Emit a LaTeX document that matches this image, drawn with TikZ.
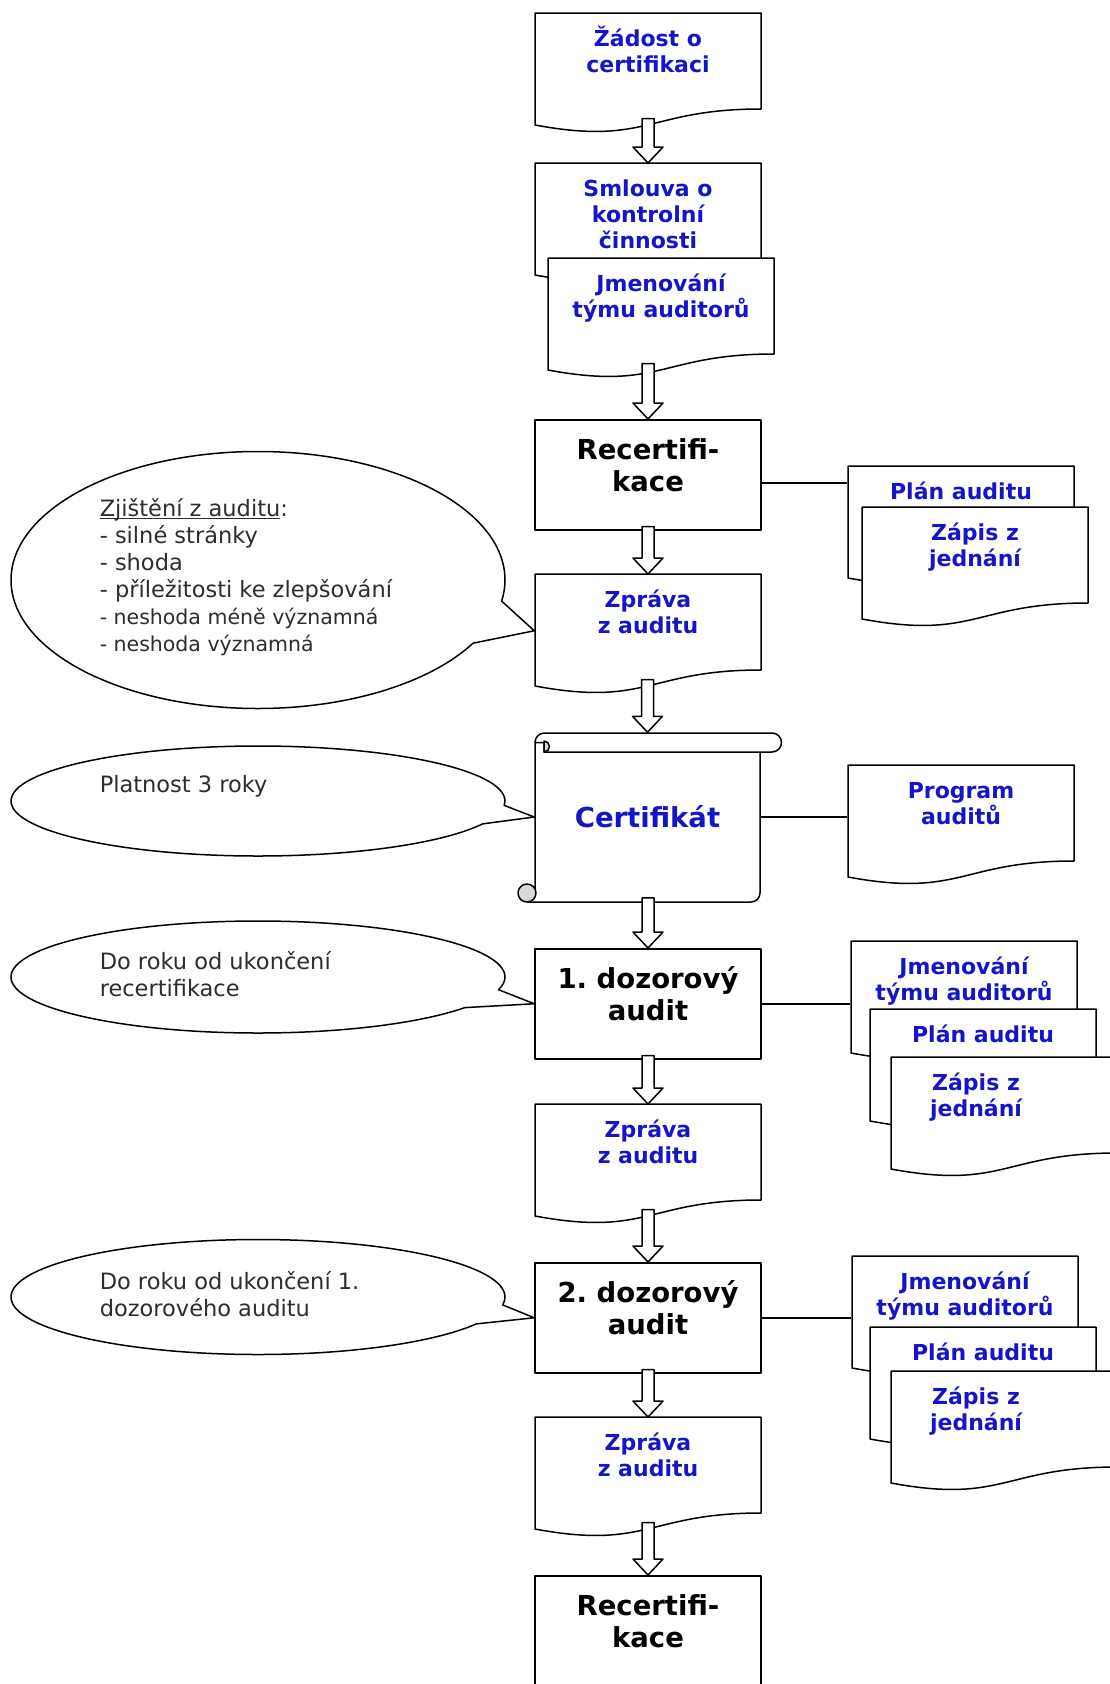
\documentclass[tikz,border=0pt]{standalone}
\usepackage{fontspec}
\setmainfont{DejaVu Sans}
\usetikzlibrary{calc,shapes.callouts}
\definecolor{docblue}{RGB}{20,20,200}
\definecolor{notegray}{RGB}{45,45,45}
\frenchspacing
\newcommand{\docf}{\fontsize{22}{26}\selectfont\bfseries}
\newcommand{\bigf}{\fontsize{27.5}{31.5}\selectfont\bfseries}
\newcommand{\notef}{\fontsize{22.5}{27}\selectfont}
\newcommand{\uln}[1]{\setbox0\hbox{#1}\rlap{\rule[-2.5pt]{\wd0}{1.2pt}}\box0}
\newcommand{\toptext}[3]{\parbox[t][#1][t]{226pt}{\centering\rule{0pt}{#2}#3}}
\newcommand{\docu}[5][0]{%
 \draw[fill=white,shift={(#3,#4)}] (0,0) -- (226,0) -- (226,96)
   .. controls (113,96) and (113,133) .. (0,112) -- cycle;
 \node[doc] (#2) at ({#3+113+(#1)},#4) {\toptext{112pt}{33pt}{#5}};}
\begin{document}
\begin{tikzpicture}[x=1pt, y=-1pt, line width=1.5pt, line join=round,
  doc/.style={inner sep=0pt, anchor=north, font=\docf, text=docblue},
  box/.style={draw, fill=white, inner sep=0pt, anchor=north, font=\bigf},
  note/.style={ellipse callout, draw, fill=white, minimum width=494pt, callout pointer arc=20},
  notetext/.style={anchor=north west, inner sep=0pt, align=left, font=\notef, text=notegray}]
\useasboundingbox (0,0) rectangle (1110,1684);
\clip (0,0) rectangle (1110,1684);

\docu{zadost}{535}{13}{Žádost o\\certifikaci}
\docu{smlouva}{535}{163}{Smlouva o\\kontrolní\\činnosti}
\docu{jmen0}{548}{258}{Jmenování\\týmu auditorů}
\node[box] (recert1) at (648,419) {\toptext{110pt}{40pt}{Recertifi-\\kace}};
\docu{zprava1}{535}{574}{Zpráva\\z auditu}

\draw[fill=white] (527,902) -- (751,902) arc[start angle=90, end angle=0, radius=9]
  -- (760,752) -- (544,752) -- (544,742.5) -- (535,742.5) -- (535,893);
\draw[fill=gray!30] (527,893) circle (9);
\draw[fill=white] (544,733) -- (772,733) arc[start angle=-90, end angle=90, radius=9.5]
  -- (544,752);
\draw (535,742.5) arc[start angle=180, end angle=270, radius=9.5];
\draw[fill=gray!30] (544,741) arc[start angle=-90, end angle=90, radius=5.5] -- cycle;
\node[minimum width=225pt, minimum height=168pt, inner sep=0pt, font=\bigf, text=docblue] (certif) at (647.5,817) {Certifikát};

\node[box] (dozor1) at (648,948) {\toptext{110pt}{40pt}{1. dozorový\\audit}};
\docu{zprava2}{535}{1104}{Zpráva\\z auditu}
\node[box] (dozor2) at (648,1262) {\toptext{110pt}{40pt}{2. dozorový\\audit}};
\docu{zprava3}{535}{1417}{Zpráva\\z auditu}
\node[box] (recert2) at (648,1575) {\toptext{110pt}{40pt}{Recertifi-\\kace}};

\docu{plan0}{848}{466}{Plán auditu}
\docu{zapis0}{862}{507}{Zápis z\\jednání}
\docu{program}{848}{765}{Program\\auditů}
\docu{jmen1}{851}{941}{Jmenování\\týmu auditorů}
\docu{plan1}{870}{1009}{Plán auditu}
\docu[-28]{zapis1}{891}{1057}{Zápis z\\jednání}
\docu{jmen2}{852}{1256}{Jmenování\\týmu auditorů}
\docu{plan2}{870}{1327}{Plán auditu}
\docu[-28]{zapis2}{891}{1371}{Zápis z\\jednání}

\foreach \a/\b/\s in {zadost/smlouva/8, jmen0/recert1/8, recert1/zprava1/4, zprava1/certif/8,
  certif/dozor1/4, dozor1/zprava2/4, zprava2/dozor2/8, dozor2/zprava3/4, zprava3/recert2/8}
  \draw[fill=white] ($(\a.south -| \b.north)+(-6,-\s)$) -- ($(\b.north)+(-6,-16)$)
    -- ($(\b.north)+(-15,-16)$) -- (\b.north) -- ($(\b.north)+(15,-16)$)
    -- ($(\b.north)+(6,-16)$) -- ($(\a.south -| \b.north)+(6,-\s)$) -- cycle;

\draw ([yshift=-8pt]recert1.east) -- ([yshift=-8pt]recert1.east -| plan0.west);
\draw (certif.east) -- (certif.east -| program.west);
\draw (dozor1.east) -- (dozor1.east -| jmen1.west);
\draw (dozor2.east) -- (dozor2.east -| jmen2.west);

\node[note, minimum height=257pt, callout absolute pointer={(zprava1.west)}] (findings) at (258,580) {};
\node[notetext] (findingstxt) at (99,498) {\uln{Zjištění z auditu}:\\- silné stránky\\- shoda\\- příležitosti ke zlepšování\\{\fontsize{20.5}{27}\selectfont - neshoda méně významná}\\{\fontsize{20.5}{27}\selectfont - neshoda významná}};
\node[note, minimum height=110pt, callout absolute pointer={(certif.west)}] (validity) at (258,801) {};
\node[notetext] (validitytxt) at (99,775) {Platnost 3 roky};
\node[note, minimum height=112pt, callout absolute pointer={(dozor1.west)}] (term1) at (258,977) {};
\node[notetext] (term1txt) at (99,951) {Do roku od ukončení\\recertifikace};
\node[note, minimum height=115pt, callout absolute pointer={(dozor2.west)}] (term2) at (258,1297) {};
\node[notetext] (term2txt) at (99,1271) {Do roku od ukončení 1.\\dozorového auditu};
\end{tikzpicture}
\end{document}
